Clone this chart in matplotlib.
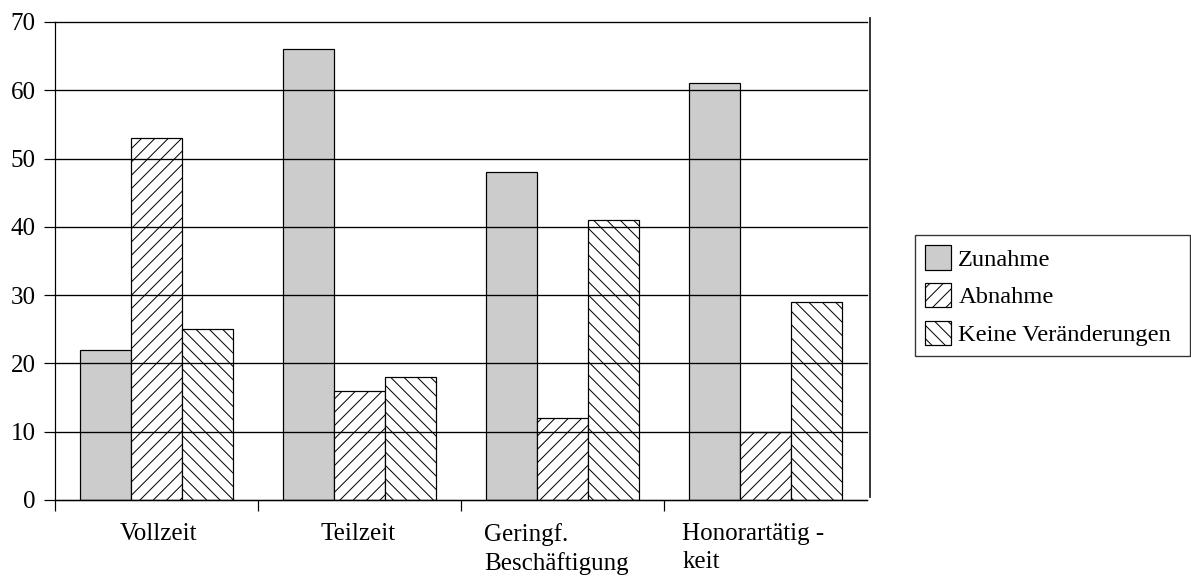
import matplotlib
matplotlib.use("Agg")
import matplotlib.pyplot as plt
import matplotlib.transforms as mtransforms
import numpy as np

categories = ["Vollzeit", "Teilzeit", "Geringf.\nBeschäftigung", "Honorartätig -\nkeit"]
series_names = ["Zunahme", "Abnahme", "Keine Veränderungen"]
zunahme = [22, 66, 48, 61]
abnahme = [53, 16, 12, 10]
keine = [25, 18, 41, 29]
yticks = [0, 10, 20, 30, 40, 50, 60, 70]

plt.rcParams['font.family'] = ['Liberation Serif', 'DejaVu Serif']
plt.rcParams['hatch.linewidth'] = 0.9
plt.rcParams['hatch.color'] = 'black'

DPI = 80
W, H = 1191, 577
fig = plt.figure(figsize=(W / DPI, H / DPI), dpi=DPI)
ax = fig.add_axes([55 / W, 77 / H, 812 / W, 478 / H])

x = np.arange(len(categories))
bw = 0.25
styles = [dict(facecolor='#cccccc', hatch=None),
          dict(facecolor='white', hatch='//'),
          dict(facecolor='white', hatch='\\\\')]
handles = []
for i, (vals, st) in enumerate(zip([zunahme, abnahme, keine], styles)):
    b = ax.bar(x + (i - 1) * bw, vals, width=bw, facecolor=st['facecolor'],
               hatch=st['hatch'], edgecolor='black', linewidth=1.1,
               label=series_names[i], zorder=1)
    handles.append(b)

FS = 22.5
ax.set_xlim(-0.5, 3.5)
ax.set_ylim(0, 70)
ax.set_yticks(yticks)
ax.set_yticklabels([str(v) for v in yticks])
ax.tick_params(axis='y', length=9.5, width=1.1, pad=8, labelsize=FS, direction='out')

ax.set_xticks([-0.5, 0.5, 1.5, 2.5])
ax.set_xticklabels([])
ax.set_xticks(x, minor=True)
ax.set_xticklabels(categories, minor=True)
ax.tick_params(axis='x', which='major', length=10, width=1.1, direction='out')
ax.tick_params(axis='x', which='minor', length=0, pad=21, labelsize=FS)
for lbl in ax.get_xticklabels(minor=True):
    lbl.set_multialignment('left')
    lbl.set_linespacing(1.32)
shifts = [2, -1, -6, -12]
for lbl, dx in zip(ax.get_xticklabels(minor=True), shifts):
    lbl.set_transform(lbl.get_transform() + mtransforms.ScaledTranslation(dx / DPI, 0, fig.dpi_scale_trans))

ax.grid(axis='y', color='black', linewidth=1.2)
ax.grid(axis='x', visible=False)
ax.set_axisbelow(False)
for gl in ax.get_ygridlines():
    gl.set_clip_on(False)

for s in ['top', 'right']:
    ax.spines[s].set_visible(False)
for s in ['left', 'bottom']:
    ax.spines[s].set_linewidth(1.1)
    ax.spines[s].set_color('black')

# detached right border line
ax.axvline(3.515, ymin=0.45 / 70, ymax=70.6 / 70, color='#222222', linewidth=1.6, clip_on=False)

leg = fig.legend(handles=handles, labels=series_names, loc='upper left',
                 bbox_to_anchor=(915 / W, 1 - 235 / H, (1190 - 915) / W, 0.0),
                 mode='expand', borderaxespad=0, frameon=True, fancybox=False,
                 edgecolor='black', fontsize=22, handlelength=1.05, handleheight=1.15,
                 handletextpad=0.3, labelspacing=0.5, borderpad=0.42)
leg.get_frame().set_linewidth(1.2)

fig.savefig("out.png", dpi=DPI)
